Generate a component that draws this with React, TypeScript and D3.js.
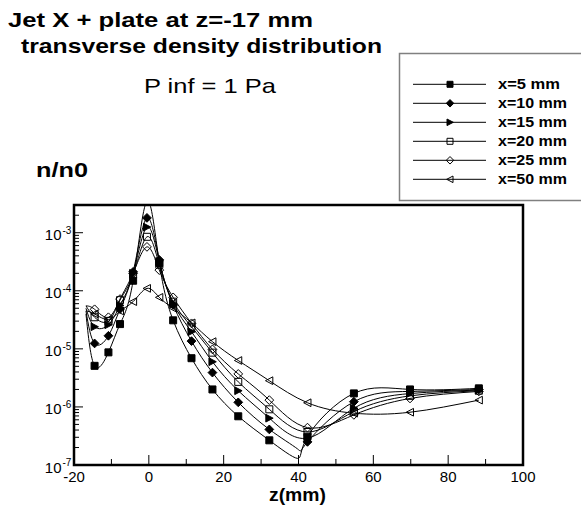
import React from "react";
import * as d3 from "d3";

// ---- data ----
const zPositions = [-14.5, -10.8, -7.7, -4.2, -0.5, 2.8, 6.5, 11.4, 17, 23.9, 32.2, 42.4, 54.8, 69.8, 88.2];
const startZ = -16.8; // first curve point (no symbol)
const dipZ = 39.7; // extra curve point (no symbol)

const seriesLabels = ["x=5 mm", "x=10 mm", "x=15 mm", "x=20 mm", "x=25 mm", "x=50 mm"];
const markerKinds = ["squareFilled", "diamondFilled", "triRightFilled", "squareOpen", "diamondOpen", "triLeftOpen"];

const x5mm = [5.1e-6, 8.7e-6, 2.67e-5, 1.49e-4, 3.5e-3, 3.0e-4, 3.1e-5, 6.9e-6, 2.0e-6, 6.9e-7, 2.66e-7, 3.07e-7, 1.71e-6, 2.0e-6, 2.09e-6];
const x10mm = [1.24e-5, 1.68e-5, 4.84e-5, 2.12e-4, 1.8e-3, 3.4e-4, 5.7e-5, 1.36e-5, 3.9e-6, 1.2e-6, 4.1e-7, 2.5e-7, 1.23e-6, 1.85e-6, 2.0e-6];
const x15mm = [2.4e-5, 2.6e-5, 5.6e-5, 2.0e-4, 1.25e-3, 3.2e-4, 6.0e-5, 1.97e-5, 6.0e-6, 1.9e-6, 6.4e-7, 2.9e-7, 9.5e-7, 1.7e-6, 1.95e-6];
const x20mm = [3.5e-5, 3.0e-5, 6.9e-5, 1.9e-4, 8.5e-4, 2.8e-4, 6.5e-5, 2.4e-5, 8.6e-6, 2.7e-6, 9.1e-7, 3.7e-7, 8.3e-7, 1.55e-6, 1.9e-6];
const x25mm = [4.8e-5, 3.5e-5, 7.2e-5, 2.0e-4, 5.7e-4, 2.27e-4, 7.7e-5, 2.75e-5, 9.8e-6, 3.7e-6, 1.31e-6, 4.4e-7, 7.3e-7, 1.4e-6, 1.85e-6];
const x50mm = [4.0e-5, 3.2e-5, 4.5e-5, 6.5e-5, 1.1e-4, 7.7e-5, 5.0e-5, 2.8e-5, 1.33e-5, 6.3e-6, 2.83e-6, 1.18e-6, 7.8e-7, 8.1e-7, 1.31e-6];
const seriesValues = [x5mm, x10mm, x15mm, x20mm, x25mm, x50mm];

const startValues = [4.0e-5, 4.5e-5, 5.0e-5, 5.5e-5, 5.5e-5, 4.5e-5];
const dipValues: (number | null)[] = [1.3e-7, 1.9e-7, null, null, null, null];

const xMajorTicks = [-20, 0, 20, 40, 60, 80, 100];
const xMinorTicks = [-10, 10, 30, 50, 70, 90];
const yDecadeExponents = [-7, -6, -5, -4, -3];

const FONT = "'Liberation Sans', Arial, Helvetica, sans-serif";

function markerPath(kind: string, s: number): string {
  const h = s / 2;
  if (kind.startsWith("square")) return `M${-h},${-h}H${h}V${h}H${-h}Z`;
  if (kind.startsWith("diamond")) {
    const d = h * 1.25;
    return `M0,${-d}L${d},0L0,${d}L${-d},0Z`;
  }
  if (kind.startsWith("triRight")) return `M${-h},${-h * 1.1}L${h * 1.1},0L${-h},${h * 1.1}Z`;
  return `M${h},${-h * 1.1}L${-h * 1.1},0L${h},${h * 1.1}Z`;
}

function Marker({ kind, cx, cy, s }: { kind: string; cx: number; cy: number; s: number }) {
  const filled = kind.endsWith("Filled");
  return (
    <path
      d={markerPath(kind, s)}
      transform={`translate(${cx},${cy})`}
      fill={filled ? "#000" : "none"}
      stroke="#000"
      strokeWidth={1}
    />
  );
}

export default function App() {
  const W = 581;
  const H = 507;
  const left = 74, right = 523, top = 205, bottom = 465;
  const x = d3.scaleLinear().domain([-20, 100]).range([left, right]);
  const y = d3.scaleLog().domain([1e-7, 3e-3]).range([bottom, top]);

  const line = d3
    .line<[number, number]>()
    .x((d) => x(d[0]))
    .y((d) => y(d[1]))
    .curve(d3.curveNatural);

  const curves = seriesValues.map((vals, i) => {
    const pts: [number, number][] = [[startZ, startValues[i]]];
    zPositions.forEach((z, j) => {
      if (z > dipZ && zPositions[j - 1] < dipZ && dipValues[i] != null) pts.push([dipZ, dipValues[i] as number]);
      pts.push([z, vals[j]]);
    });
    return pts;
  });

  const yMinor: number[] = [];
  for (const e of yDecadeExponents) {
    for (let k = 2; k <= 9; k++) {
      const v = k * Math.pow(10, e);
      if (v < 3e-3) yMinor.push(v);
    }
  }

  const legendRowY = (i: number) => 84.3 + i * 19;

  return (
    <svg width={W} height={H} style={{ position: "absolute", left: 0, top: 0 }} fontFamily={FONT}>
      <rect x={0} y={0} width={W} height={H} fill="#fff" />
      <defs>
        <clipPath id="plotClip">
          <rect x={left} y={top} width={right - left} height={bottom - top} />
        </clipPath>
      </defs>

      {/* titles */}
      <text x={8} y={27} fontSize={21} fontWeight="bold" textLength={305} lengthAdjust="spacingAndGlyphs">
        Jet X + plate at z=-17 mm
      </text>
      <text x={21} y={53} fontSize={21} fontWeight="bold" textLength={361} lengthAdjust="spacingAndGlyphs">
        transverse density distribution
      </text>
      <text x={144} y={93} fontSize={21} textLength={132} lengthAdjust="spacingAndGlyphs">
        P inf = 1 Pa
      </text>
      <text x={36} y={177} fontSize={20} fontWeight="bold" textLength={52} lengthAdjust="spacingAndGlyphs">
        n/n0
      </text>

      {/* legend */}
      <rect x={399.5} y={53.5} width={200} height={147} fill="#fff" stroke="#808080" strokeWidth={1.5} />
      {seriesLabels.map((lab, i) => (
        <g key={lab}>
          <line x1={413} x2={486} y1={legendRowY(i)} y2={legendRowY(i)} stroke="#000" strokeWidth={1} />
          <Marker kind={markerKinds[i]} cx={450} cy={legendRowY(i)} s={6} />
          <text
            x={498}
            y={legendRowY(i) + 5}
            fontSize={14}
            fontWeight="bold"
            textLength={lab.length === 6 ? 62 : 69}
            lengthAdjust="spacingAndGlyphs"
          >
            {lab}
          </text>
        </g>
      ))}

      {/* curves */}
      <g clipPath="url(#plotClip)">
        {curves.map((pts, i) => (
          <path key={i} d={line(pts) || ""} fill="none" stroke="#000" strokeWidth={1} />
        ))}
        {seriesValues.map((vals, i) =>
          vals.map((v, j) => (
            <Marker key={`${i}-${j}`} kind={markerKinds[i]} cx={x(zPositions[j])} cy={y(v)} s={7} />
          ))
        )}
      </g>

      {/* ticks */}
      {xMajorTicks.map((t) => (
        <line key={`xM${t}`} x1={x(t)} x2={x(t)} y1={bottom} y2={bottom - 10} stroke="#000" strokeWidth={1} />
      ))}
      {xMinorTicks.map((t) => (
        <line key={`xm${t}`} x1={x(t)} x2={x(t)} y1={bottom} y2={bottom - 6} stroke="#000" strokeWidth={1} />
      ))}
      {yDecadeExponents.map((e) => (
        <line key={`yM${e}`} x1={left} x2={left + 9} y1={y(Math.pow(10, e))} y2={y(Math.pow(10, e))} stroke="#000" strokeWidth={1} />
      ))}
      {yMinor.map((v) => (
        <line key={`ym${v}`} x1={left} x2={left + 5} y1={y(v)} y2={y(v)} stroke="#000" strokeWidth={1} />
      ))}

      {/* frame */}
      <rect x={left} y={top} width={right - left} height={bottom - top} fill="none" stroke="#000" strokeWidth={2.5} />

      {/* tick labels */}
      {xMajorTicks.map((t) => (
        <text key={`xl${t}`} x={x(t)} y={481.5} fontSize={15} textAnchor="middle">
          {t}
        </text>
      ))}
      {yDecadeExponents.map((e) => {
        const yy = y(Math.pow(10, e));
        return (
          <g key={`yl${e}`}>
            <text x={61.5} y={yy + 7.5} fontSize={15} textAnchor="end">
              10
            </text>
            <text x={62.5} y={yy + 1} fontSize={10}>
              {String(e)}
            </text>
          </g>
        );
      })}

      <text x={297.5} y={501} fontSize={19} fontWeight="bold" textAnchor="middle" textLength={57} lengthAdjust="spacingAndGlyphs">
        z(mm)
      </text>
    </svg>
  );
}
